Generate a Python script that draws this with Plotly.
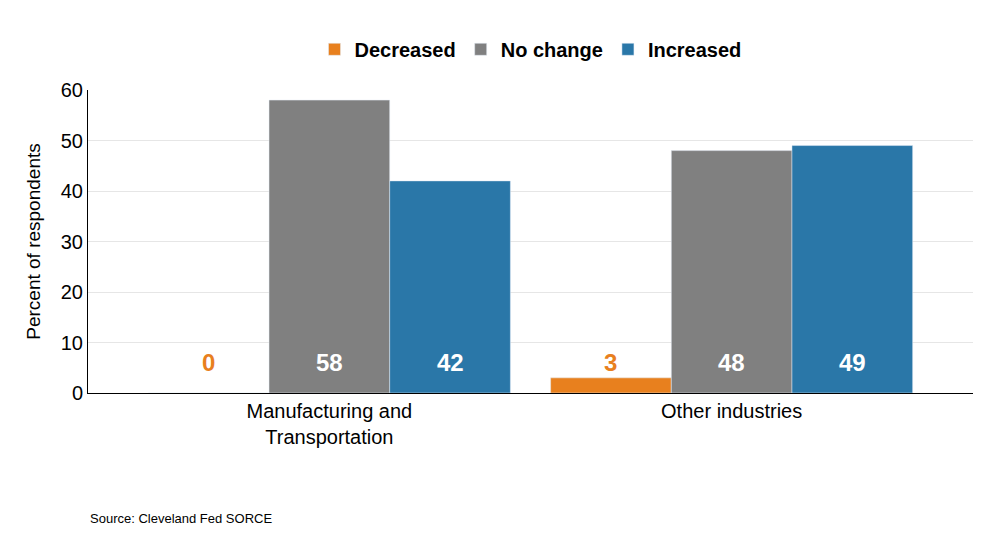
import plotly.graph_objects as go

categories = ["Manufacturing and<br>Transportation", "Other industries"]
series_names = ["Decreased", "No change", "Increased"]
decreased = [0, 3]
no_change = [58, 48]
increased = [42, 49]
colors = ["#E8801E", "#808080", "#2A77A8"]
label_colors = ["#E8801E", "white", "white"]

xs = [0, 1]
fig = go.Figure()
all_vals = [decreased, no_change, increased]
for name, vals, c in zip(series_names, all_vals, colors):
    fig.add_trace(go.Bar(x=xs, y=vals, name=f"<b>{name}</b>", marker_color=c))

bargap = 0.1
w = (1 - bargap) / 3
for k, (vals, lc) in enumerate(zip(all_vals, label_colors)):
    for i, v in enumerate(vals):
        fig.add_annotation(x=xs[i] + (k - 1) * w, y=6, text=f"<b>{v}</b>", showarrow=False,
                           font=dict(size=24, color=lc, family="Liberation Sans"))

fig.add_annotation(x=0, y=0, xref="paper", yref="paper", yshift=-135, xanchor="left", yanchor="bottom",
                   text="Source: Cleveland Fed SORCE", showarrow=False,
                   font=dict(size=13, color="black"))

fig.update_layout(
    width=991, height=557, barmode="group", bargap=bargap, bargroupgap=0,
    margin=dict(l=80, r=26, t=82, b=172),
    plot_bgcolor="white", paper_bgcolor="white",
    font=dict(family="Liberation Sans, Arial", color="black"),
    legend=dict(orientation="h", x=0.5, xanchor="center", y=1.07, yanchor="bottom",
                font=dict(size=20, family="Liberation Sans"), traceorder="normal",
                itemwidth=30),
)
fig.update_xaxes(tickvals=xs, ticktext=categories, range=[-0.6, 1.6], showline=True,
                 linecolor="black", tickfont=dict(size=20), ticks="")
fig.update_yaxes(range=[0, 60], dtick=10, showgrid=True, gridcolor="#e6e6e6",
                 showline=True, linecolor="black", tickfont=dict(size=20),
                 title=dict(text="Percent of respondents", font=dict(size=19)), zeroline=False)
fig.write_html("out.html")
